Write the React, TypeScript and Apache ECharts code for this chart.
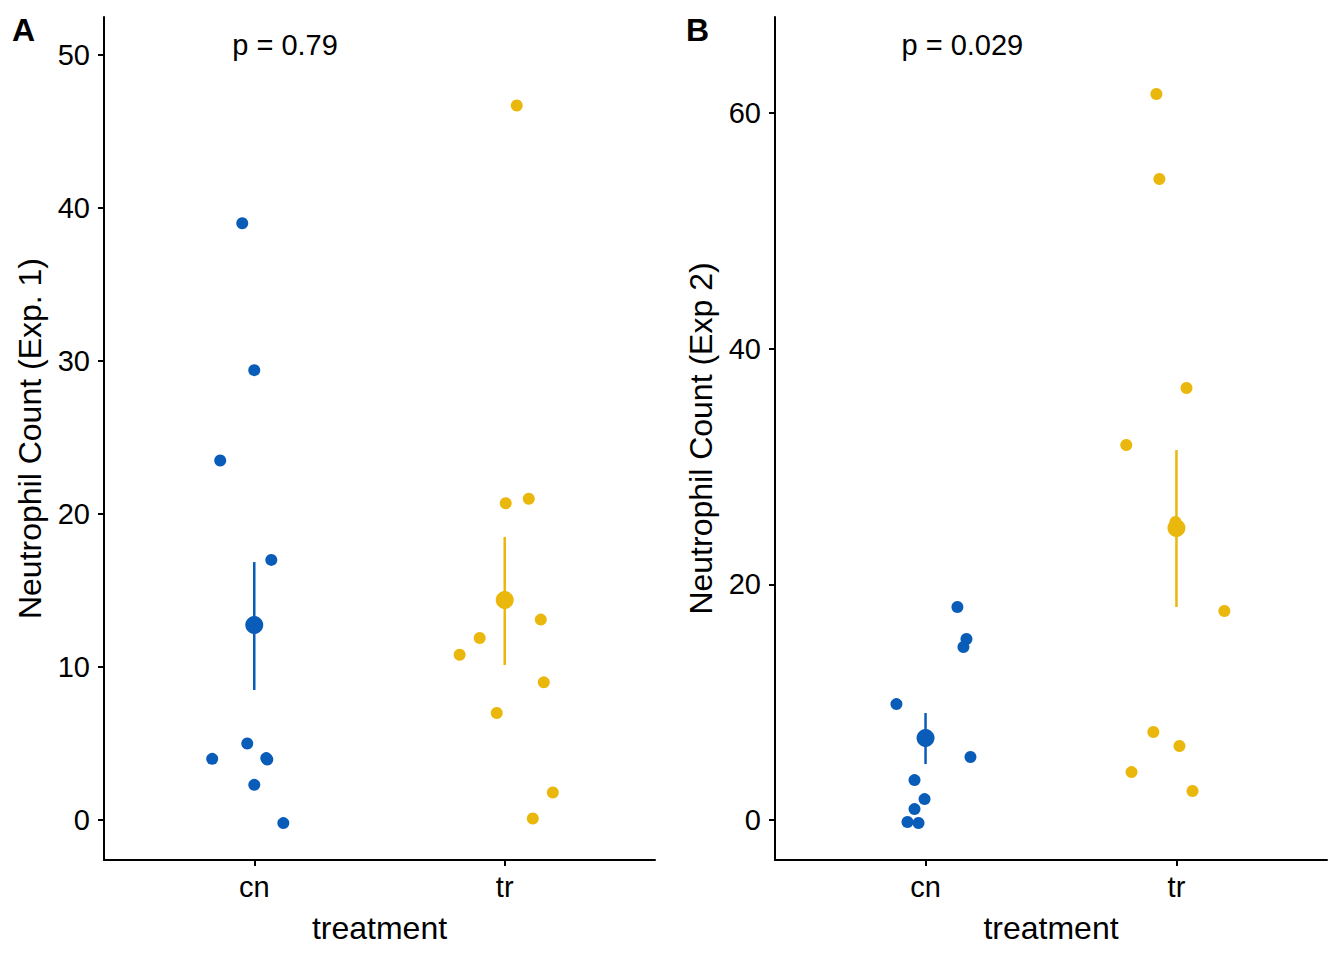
import React, { useEffect, useRef } from "react";
import * as echarts from "echarts";

const categories = ["cn", "tr"];
const colors = ["#0A5CB9", "#EAB70C"];

// Panel A (Exp. 1): horizontal jitter offsets (category units) and values
const aCnJitter = [-0.048, 0.0, -0.136, 0.068, -0.028, -0.168, 0.052, 0.048, 0.0, 0.116];
const aCnValues = [39.0, 29.4, 23.5, 17.0, 5.0, 4.0, 3.95, 4.05, 2.3, -0.2];
const aTrJitter = [0.048, 0.096, 0.004, 0.144, -0.1, -0.18, 0.156, -0.032, 0.192, 0.112];
const aTrValues = [46.7, 21.0, 20.7, 13.1, 11.9, 10.8, 9.0, 7.0, 1.8, 0.1];
const aMean = [12.75, 14.38];
const aLower = [8.5, 10.13];
const aUpper = [16.86, 18.5];
const aTicks = [0, 10, 20, 30, 40, 50];

// Panel B (Exp 2)
const bCnJitter = [0.127, 0.163, 0.151, -0.116, 0.179, -0.044, -0.004, -0.044, -0.072, -0.028];
const bCnValues = [18.08, 15.36, 14.68, 9.84, 5.35, 3.39, 1.78, 0.93, -0.17, -0.25];
const bTrJitter = [-0.08, -0.068, 0.04, -0.2, 0.191, -0.092, 0.012, -0.179, 0.064, -0.004];
const bTrValues = [61.61, 54.4, 36.66, 31.83, 17.74, 7.47, 6.28, 4.07, 2.46, 25.29];
const bMean = [6.96, 24.78];
const bLower = [4.75, 18.08];
const bUpper = [9.08, 31.4];
const bTicks = [0, 20, 40, 60];

const pLabels = ["p = 0.79", "p = 0.029"];
const pPosA = [0.912, 50.65];
const pPosB = [0.904, 65.77];

const FONT = "Liberation Sans, Arial, Helvetica, sans-serif";

function xAxisFor(gridIndex: number) {
  return {
    type: "value",
    gridIndex,
    min: 0.4,
    max: 2.6,
    splitLine: { show: false },
    axisLine: { show: true, onZero: false, lineStyle: { color: "#000", width: 2 } },
    axisTick: { show: true, customValues: [1, 2], length: 6, lineStyle: { color: "#000", width: 2 } },
    axisLabel: {
      show: true,
      customValues: [1, 2],
      formatter: (v: number) => categories[Math.round(v) - 1],
      fontSize: 29,
      color: "#000",
      margin: 12,
      fontFamily: FONT,
    },
    name: "treatment",
    nameLocation: "middle",
    nameGap: 52,
    nameTextStyle: { fontSize: 32, color: "#000", fontFamily: FONT },
  };
}

function yAxisFor(gridIndex: number, min: number, max: number, ticks: number[], name: string) {
  return {
    type: "value",
    gridIndex,
    min,
    max,
    splitLine: { show: false },
    axisLine: { show: true, onZero: false, lineStyle: { color: "#000", width: 2 } },
    axisTick: { show: true, customValues: ticks, length: 6, lineStyle: { color: "#000", width: 2 } },
    axisLabel: {
      show: true,
      customValues: ticks,
      fontSize: 29,
      color: "#000",
      margin: 14,
      fontFamily: FONT,
    },
    name,
    nameLocation: "middle",
    nameGap: 58,
    nameTextStyle: { fontSize: 32, color: "#000", fontFamily: FONT },
  };
}

function panelSeries(
  idx: number,
  cnJ: number[],
  cnV: number[],
  trJ: number[],
  trV: number[],
  mean: number[],
  lower: number[],
  upper: number[]
) {
  return [
    {
      type: "scatter",
      xAxisIndex: idx,
      yAxisIndex: idx,
      symbolSize: 12,
      itemStyle: { color: colors[0], opacity: 1 },
      data: cnJ.map((j, i) => [1 + j, cnV[i]]),
    },
    {
      type: "scatter",
      xAxisIndex: idx,
      yAxisIndex: idx,
      symbolSize: 12,
      itemStyle: { color: colors[1], opacity: 1 },
      data: trJ.map((j, i) => [2 + j, trV[i]]),
    },
    {
      type: "custom",
      xAxisIndex: idx,
      yAxisIndex: idx,
      encode: { x: 0, y: [1, 2] },
      data: mean.map((_, i) => [i + 1, lower[i], upper[i]]),
      renderItem: (params: any, api: any) => {
        const x = api.value(0);
        const p1 = api.coord([x, api.value(1)]);
        const p2 = api.coord([x, api.value(2)]);
        return {
          type: "line",
          shape: { x1: p1[0], y1: p1[1], x2: p2[0], y2: p2[1] },
          style: { stroke: colors[params.dataIndex], lineWidth: 2.5 },
        };
      },
      z: 3,
    },
    {
      type: "scatter",
      xAxisIndex: idx,
      yAxisIndex: idx,
      symbolSize: 18,
      z: 4,
      data: mean.map((m, i) => ({ value: [i + 1, m], itemStyle: { color: colors[i], opacity: 1 } })),
    },
  ];
}

export default function App() {
  const ref = useRef<HTMLDivElement>(null);
  useEffect(() => {
    if (!ref.current) return;
    const chart = echarts.init(ref.current, undefined, { renderer: "svg" });
    chart.setOption({
      animation: false,
      backgroundColor: "#fff",
      textStyle: { fontFamily: FONT },
      grid: [
        { left: 104, top: 17, width: 551, height: 843 },
        { left: 775, top: 17, width: 552, height: 843 },
      ],
      xAxis: [xAxisFor(0), xAxisFor(1)],
      yAxis: [
        yAxisFor(0, -2.61, 52.48, aTicks, "Neutrophil Count (Exp. 1)"),
        yAxisFor(1, -3.39, 68.15, bTicks, "Neutrophil Count (Exp 2)"),
      ],
      series: [
        ...panelSeries(0, aCnJitter, aCnValues, aTrJitter, aTrValues, aMean, aLower, aUpper),
        ...panelSeries(1, bCnJitter, bCnValues, bTrJitter, bTrValues, bMean, bLower, bUpper),
      ],
    });
    const pa = chart.convertToPixel({ gridIndex: 0 }, pPosA) as number[];
    const pb = chart.convertToPixel({ gridIndex: 1 }, pPosB) as number[];
    chart.setOption({
      graphic: [
        {
          type: "text",
          left: 12,
          top: 14,
          style: { text: "A", fontSize: 32, fontWeight: "bold", fill: "#000", fontFamily: FONT },
        },
        {
          type: "text",
          left: 686,
          top: 14,
          style: { text: "B", fontSize: 32, fontWeight: "bold", fill: "#000", fontFamily: FONT },
        },
        {
          type: "text",
          x: pa[0],
          y: pa[1],
          style: {
            text: pLabels[0],
            fontSize: 29,
            fill: "#000",
            fontFamily: FONT,
            align: "left",
            verticalAlign: "middle",
          },
        },
        {
          type: "text",
          x: pb[0],
          y: pb[1],
          style: {
            text: pLabels[1],
            fontSize: 29,
            fill: "#000",
            fontFamily: FONT,
            align: "left",
            verticalAlign: "middle",
          },
        },
      ],
    });
    return () => chart.dispose();
  }, []);
  return (
    <div
      ref={ref}
      style={{ position: "absolute", left: 0, top: 0, width: 1344, height: 960 }}
    />
  );
}
